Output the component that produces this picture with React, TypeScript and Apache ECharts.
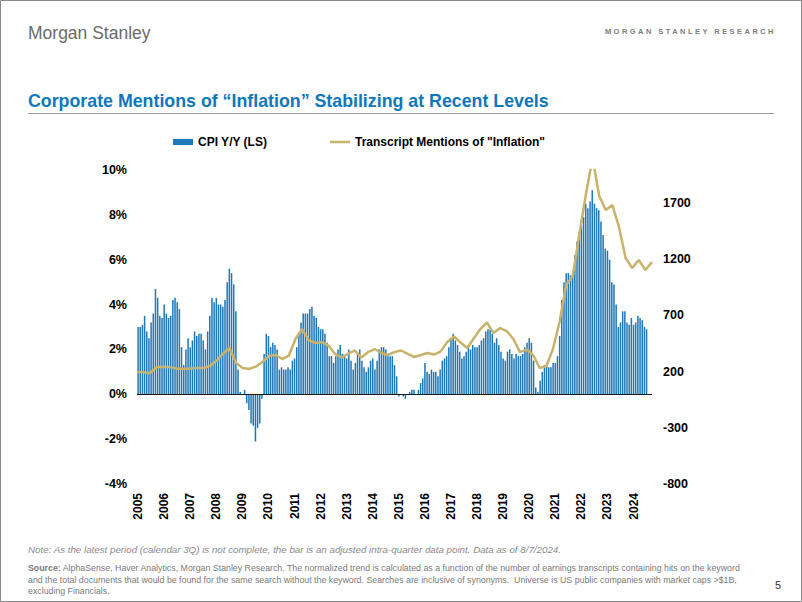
import React, { useEffect, useRef } from "react";
import * as echarts from "echarts";

// ---------------- data ----------------
const cpi2005 = [3.0, 3.0, 3.1, 3.5, 2.8, 2.5, 3.2, 3.6, 4.7, 4.3, 3.5, 3.4];
const cpi2006 = [4.0, 3.6, 3.4, 3.5, 4.2, 4.3, 4.1, 3.8, 2.1, 1.3, 2.0, 2.5];
const cpi2007 = [2.1, 2.4, 2.8, 2.6, 2.7, 2.7, 2.4, 2.0, 2.8, 3.5, 4.3, 4.1];
const cpi2008 = [4.3, 4.0, 4.0, 3.9, 4.2, 5.0, 5.6, 5.4, 4.9, 3.7, 1.1, 0.1];
const cpi2009 = [0.0, 0.2, -0.4, -0.7, -1.3, -1.4, -2.1, -1.5, -1.3, -0.2, 1.8, 2.7];
const cpi2010 = [2.6, 2.1, 2.3, 2.2, 2.0, 1.1, 1.2, 1.1, 1.1, 1.2, 1.1, 1.5];
const cpi2011 = [1.6, 2.1, 2.7, 3.2, 3.6, 3.6, 3.6, 3.8, 3.9, 3.5, 3.4, 3.0];
const cpi2012 = [2.9, 2.9, 2.7, 2.3, 1.7, 1.7, 1.4, 1.7, 2.0, 2.2, 1.8, 1.7];
const cpi2013 = [1.6, 2.0, 1.5, 1.1, 1.4, 1.8, 2.0, 1.5, 1.2, 1.0, 1.2, 1.5];
const cpi2014 = [1.6, 1.1, 1.5, 2.0, 2.1, 2.1, 2.0, 1.7, 1.7, 1.7, 1.3, 0.8];
const cpi2015 = [-0.1, 0.0, -0.1, -0.2, 0.0, 0.1, 0.2, 0.2, 0.0, 0.2, 0.5, 0.7];
const cpi2016 = [1.4, 1.0, 0.9, 1.1, 1.0, 1.0, 0.8, 1.1, 1.5, 1.6, 1.7, 2.1];
const cpi2017 = [2.5, 2.7, 2.4, 2.2, 1.9, 1.6, 1.7, 1.9, 2.2, 2.0, 2.2, 2.1];
const cpi2018 = [2.1, 2.2, 2.4, 2.5, 2.8, 2.9, 2.9, 2.7, 2.3, 2.5, 2.2, 1.9];
const cpi2019 = [1.6, 1.5, 1.9, 2.0, 1.8, 1.6, 1.8, 1.7, 1.7, 1.8, 2.1, 2.3];
const cpi2020 = [2.5, 2.3, 1.5, 0.3, 0.1, 0.6, 1.0, 1.3, 1.4, 1.2, 1.2, 1.4];
const cpi2021 = [1.4, 1.7, 2.6, 4.2, 5.0, 5.4, 5.4, 5.3, 5.4, 6.2, 6.8, 7.0];
const cpi2022 = [7.5, 7.9, 8.5, 8.3, 8.6, 9.1, 8.5, 8.3, 8.2, 7.7, 7.1, 6.5];
const cpi2023 = [6.4, 6.0, 5.0, 4.9, 4.0, 3.0, 3.2, 3.7, 3.7, 3.2, 3.1, 3.4];
const cpi2024 = [3.1, 3.2, 3.5, 3.4, 3.3, 3.0, 2.9];

const cpiYoY = [
  ...cpi2005, ...cpi2006, ...cpi2007, ...cpi2008, ...cpi2009,
  ...cpi2010, ...cpi2011, ...cpi2012, ...cpi2013, ...cpi2014,
  ...cpi2015, ...cpi2016, ...cpi2017, ...cpi2018, ...cpi2019,
  ...cpi2020, ...cpi2021, ...cpi2022, ...cpi2023, ...cpi2024,
];

// quarterly transcript mentions, 2005Q1 .. 2024Q3
const mentions = [
  196, 195, 188, 240, 240, 240, 228, 223, 228, 232,
  232, 250, 294, 357, 410, 277, 232, 223, 245, 285,
  339, 348, 312, 343, 490, 579, 481, 455, 463, 432,
  357, 325, 361, 388, 325, 374, 401, 366, 348, 374,
  388, 357, 330, 348, 366, 352, 380, 463, 512, 459,
  410, 495, 579, 637, 543, 588, 561, 490, 374, 396,
  348, 232, 250, 401, 641, 970, 1051, 1424, 1780, 2100,
  1762, 1638, 1682, 1487, 1211, 1122, 1193, 1104, 1175,
];

const firstYear = 2005;
const lastYear = 2024;
const lastMonth = 9; // axis runs to Sep 2024
const lastQuarter = 3;

const monthCategories: string[] = [];
const quarterCategories: string[] = [];
for (let y = firstYear; y <= lastYear; y++) {
  for (let m = 1; m <= 12; m++) {
    if (y === lastYear && m > lastMonth) break;
    monthCategories.push(`${y}-${m < 10 ? "0" + m : m}`);
  }
  for (let q = 1; q <= 4; q++) {
    if (y === lastYear && q > lastQuarter) break;
    quarterCategories.push(`${y}Q${q}`);
  }
}

const leftAxis = { min: -4, max: 10, interval: 2 };
const rightAxis = { min: -800, max: 1994, interval: 500 };

const barName = "CPI Y/Y (LS)";
const lineName = 'Transcript Mentions of "Inflation"';

const FONT = '"Liberation Sans", Arial, Helvetica, sans-serif';
const BAR_COLOR = "#1f78b8";
const LINE_COLOR = "#C9B26B";

export default function App() {
  const ref = useRef<HTMLDivElement>(null);

  useEffect(() => {
    document.body.style.margin = "0";
    if (!ref.current) return;
    const chart = echarts.init(ref.current, undefined, { renderer: "svg" });

    const legendText = { fontFamily: FONT, fontWeight: "bold", fontSize: 12, color: "#000" };

    const option: any = {
      animation: false,
      backgroundColor: "#ffffff",
      textStyle: { fontFamily: FONT },
      grid: { left: 137, right: 150, top: 170, bottom: 118, containLabel: false },
      legend: [
        {
          top: 136,
          left: 173,
          itemWidth: 20,
          itemHeight: 6,
          padding: 0,
          textStyle: legendText,
          data: [{ name: barName, icon: "rect" }],
        },
        {
          top: 136,
          left: 330,
          itemWidth: 20,
          itemHeight: 2.5,
          padding: 0,
          textStyle: legendText,
          data: [{ name: lineName, icon: "rect", itemStyle: { color: LINE_COLOR } }],
        },
      ],
      xAxis: [
        {
          type: "category",
          data: monthCategories,
          position: "bottom",
          boundaryGap: true,
          axisLine: { show: false, onZero: false },
          axisTick: { show: false },
          splitLine: { show: false },
          axisLabel: {
            interval: 11,
            rotate: 90,
            margin: 9,
            formatter: (v: string) => v.slice(0, 4),
            fontFamily: FONT,
            fontWeight: "bold",
            fontSize: 12,
            color: "#000",
          },
        },
        {
          type: "category",
          data: quarterCategories,
          boundaryGap: false,
          show: false,
        },
      ],
      yAxis: [
        {
          type: "value",
          min: leftAxis.min,
          max: leftAxis.max,
          interval: leftAxis.interval,
          axisLine: { show: false },
          axisTick: { show: false },
          splitLine: { show: false },
          axisLabel: {
            formatter: "{value}%",
            margin: 10,
            fontFamily: FONT,
            fontWeight: "bold",
            fontSize: 12.5,
            color: "#000",
          },
        },
        {
          type: "value",
          position: "right",
          min: rightAxis.min,
          max: rightAxis.max,
          interval: rightAxis.interval,
          axisLine: { show: false },
          axisTick: { show: false },
          splitLine: { show: false },
          axisLabel: {
            showMaxLabel: false,
            formatter: (v: number) =>
              (v - rightAxis.min) % rightAxis.interval === 0 ? String(v) : "",
            margin: 11,
            fontFamily: FONT,
            fontWeight: "bold",
            fontSize: 12.5,
            color: "#000",
          },
        },
      ],
      series: [
        {
          name: barName,
          type: "bar",
          xAxisIndex: 0,
          yAxisIndex: 0,
          data: cpiYoY,
          barCategoryGap: "30%",
          itemStyle: { color: BAR_COLOR },
          markLine: {
            silent: true,
            symbol: "none",
            label: { show: false },
            lineStyle: { color: "#1a1a1a", width: 1, type: "solid" },
            data: [{ yAxis: 0 }],
          },
        },
        {
          name: lineName,
          type: "line",
          xAxisIndex: 1,
          yAxisIndex: 1,
          data: mentions,
          symbol: "none",
          showSymbol: false,
          clip: true,
          z: 3,
          lineStyle: { color: LINE_COLOR, width: 2.5 },
          itemStyle: { color: LINE_COLOR },
        },
      ],
      graphic: [
        {
          type: "rect",
          shape: { x: 0.5, y: 0.5, width: 801, height: 601 },
          style: { fill: "none", stroke: "#8a8a8a", lineWidth: 1 },
          silent: true,
        },
        {
          type: "text",
          x: 28,
          y: 24,
          style: {
            text: "Morgan Stanley",
            font: `17.5px ${FONT}`,
            fill: "#6b6b6b",
            verticalAlign: "top",
          },
        },
        {
          type: "text",
          x: 28,
          y: 92,
          style: {
            text: "Corporate Mentions of \u201CInflation\u201D Stabilizing at Recent Levels",
            font: `bold 17.8px ${FONT}`,
            fill: "#0f77bd",
            verticalAlign: "top",
          },
        },
        {
          type: "line",
          shape: { x1: 28, y1: 113.5, x2: 774, y2: 113.5 },
          style: { stroke: "#9a9a9a", lineWidth: 1 },
          silent: true,
        },
        {
          type: "text",
          x: 28,
          y: 549,
          style: {
            text: "Note: As the latest period (calendar 3Q) is not complete, the bar is an adjusted intra-quarter data point. Data as of 8/7/2024.",
            font: `italic 9.75px ${FONT}`,
            fill: "#8a8a8a",
            verticalAlign: "middle",
          },
        },
        {
          type: "text",
          x: 28,
          y: 568,
          style: {
            text: "{b|Source:} AlphaSense, Haver Analytics, Morgan Stanley Research. The normalized trend is calculated as a function of the number of earnings transcripts containing hits on the keyword",
            font: `8.8px ${FONT}`,
            fill: "#7a7a7a",
            verticalAlign: "middle",
            rich: { b: { fontWeight: "bold", fontSize: 8.8, fill: "#7a7a7a", fontFamily: FONT } },
          },
        },
        {
          type: "text",
          x: 28,
          y: 579.5,
          style: {
            text: "and the total documents that would be found for the same search without the keyword. Searches are inclusive of synonyms.  Universe is US public companies with market caps >$1B,",
            font: `8.8px ${FONT}`,
            fill: "#7a7a7a",
            verticalAlign: "middle",
          },
        },
        {
          type: "text",
          x: 28,
          y: 591,
          style: {
            text: "excluding Financials.",
            font: `8.8px ${FONT}`,
            fill: "#7a7a7a",
            verticalAlign: "middle",
          },
        },
        {
          type: "text",
          x: 775,
          y: 585,
          style: {
            text: "5",
            font: `11px ${FONT}`,
            fill: "#333",
            verticalAlign: "middle",
          },
        },
      ],
    };

    chart.setOption(option);
    return () => chart.dispose();
  }, []);

  return (
    <div style={{ position: "relative", width: 802, height: 602, background: "#fff" }}>
      <div ref={ref} style={{ position: "absolute", left: 0, top: 0, width: 802, height: 602 }} />
      <div
        style={{
          position: "absolute",
          right: 26,
          top: 27,
          fontFamily: FONT,
          fontSize: 7.5,
          fontWeight: "bold",
          letterSpacing: "2.45px",
          color: "#7d7d7d",
          whiteSpace: "nowrap",
          lineHeight: "10px",
        }}
      >
        MORGAN STANLEY RESEARCH
      </div>
    </div>
  );
}
